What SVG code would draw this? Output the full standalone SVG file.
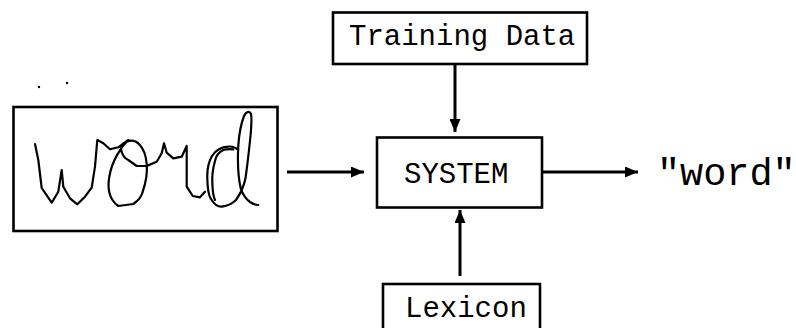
<svg xmlns="http://www.w3.org/2000/svg" width="796" height="328" viewBox="0 0 796 328">
  <style>
    .box { fill: #fff; stroke: #000; stroke-width: 2.6; }
    .lbl { font-family: "Liberation Mono", "DejaVu Sans Mono", monospace; font-size: 29px; fill: #000; }
    .out { font-family: "Liberation Mono", "DejaVu Sans Mono", monospace; font-size: 38.5px; fill: #000; }
    .ink { fill: none; stroke: #000; stroke-width: 2.2; stroke-linecap: round; stroke-linejoin: round; }
    .conn { fill: none; stroke: #000; stroke-width: 3; }
  </style>
  <defs>
    <marker id="head" viewBox="0 0 13 11" refX="13" refY="5.5" markerWidth="13" markerHeight="11" markerUnits="userSpaceOnUse" orient="auto">
      <path d="M0,0 L13,5.5 L0,11 Z" fill="#000"/>
    </marker>
  </defs>
  <rect width="796" height="328" fill="#fff"/>

  <!-- handwritten input sample -->
  <g id="input">
    <circle cx="39" cy="87" r="1.2" fill="#000"/>
    <circle cx="67" cy="83" r="1.2" fill="#000"/>
    <rect class="box" x="13.5" y="107" width="264" height="124"/>
    <path class="ink" d="M35,144 L38.3,160 L41.7,188 L51.7,202.7 L58.3,191.7 L61.7,170 L63.3,186.7 L70,198.3 L77.3,204.3 L85,196.7 L91.7,187.7 L95,166.7 L97.3,140 L103.3,143.3 L110,149.3 L118.3,147.3 L128.3,140
      C122,146 112,160 109.3,176.7 C107,190 110,200 118.3,206 L133.3,204 C139,200 142,195 142.7,191.7 C146,182 147.5,172 146.7,164 C146,155 143,148 139,144 C136,141 131,140 126.7,141.7 C122,144 120,148 121.7,152 C123,156 126,159 128.3,160 L136.7,166 L146.7,166 L156.7,161.7 L161.7,153.3 L164,143.3 L166.7,152.7 L173.3,158.3 L181.7,156.7 L186.7,146 L186.7,186.7 L192.7,196 L200,197.3 L205,191.7"/>
    <path class="ink" d="M238.3,150 C235,147 232,146 228,146.7 C222,147 216,150 212,156 C208,163 207,170 207.3,178 C207.5,188 208,195 211,199 C214,204 218,207 222,206.7 C227,206 232,204 236,200 C241,193 244,186 245.5,178 C247.5,165 249,150 250.5,136 C251.5,125 252,116 250.7,113.3 C249,111 246,111.5 244,116 C241,124 239,134 238.3,146 C237.5,160 238,176 240.7,188.3 C243,195 246,199 250,202 C253,204 256,205 258.3,205"/>
    <path class="ink" d="M233.3,149.3 C229,149 226,149 223.3,150 C219,152 216,156 215,161 C213,168 212,175 212.3,182 C212.5,190 213,196 215,200"/>
  </g>

  <g id="training-data">
    <rect class="box" x="333" y="12.5" width="254" height="51.5"/>
    <text class="lbl" x="349" y="45">Training Data</text>
  </g>

  <g id="system">
    <rect class="box" x="377" y="137.5" width="165" height="70"/>
    <text class="lbl" x="404" y="183">SYSTEM</text>
  </g>

  <g id="lexicon">
    <rect class="box" x="383" y="284" width="157" height="60"/>
    <text class="lbl" x="405" y="317">Lexicon</text>
  </g>

  <g id="output">
    <text class="out" x="657" y="185">"word"</text>
  </g>

  <g id="connectors">
    <line class="conn" x1="287" y1="172" x2="364" y2="172" marker-end="url(#head)"/>
    <line class="conn" x1="455" y1="64" x2="455" y2="132" marker-end="url(#head)"/>
    <line class="conn" x1="460" y1="276" x2="460" y2="210" marker-end="url(#head)"/>
    <line class="conn" x1="543" y1="172" x2="638" y2="172" marker-end="url(#head)"/>
  </g>
</svg>
